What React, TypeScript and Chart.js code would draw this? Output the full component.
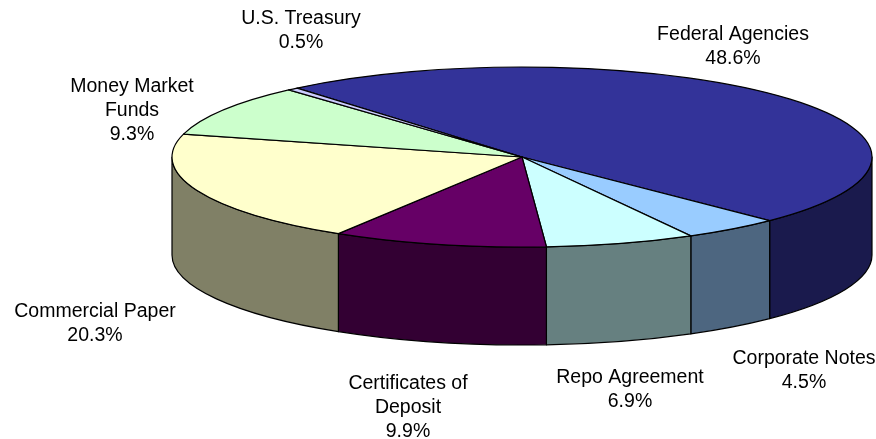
import React, { useEffect, useRef } from "react";
import { Chart, registerables } from "chart.js";

Chart.register(...registerables);

const categories = ["Federal Agencies", "Corporate Notes", "Repo Agreement", "Certificates of Deposit", "Commercial Paper", "Money Market Funds", "U.S. Treasury"];
const shares = [48.6, 4.5, 6.9, 9.9, 20.3, 9.3, 0.5];
const topColors = ["#333399", "#99CCFF", "#CCFFFF", "#660066", "#FFFFCC", "#CCFFCC", "#CCCCFF"];
const sideColors = ["#1A1A4D", "#4D6680", "#668080", "#330033", "#808066", "#668066", "#666680"];
const labelLines = [
  ["Federal Agencies", "48.6%"],
  ["Corporate Notes", "4.5%"],
  ["Repo Agreement", "6.9%"],
  ["Certificates of", "Deposit", "9.9%"],
  ["Commercial Paper", "20.3%"],
  ["Money Market", "Funds", "9.3%"],
  ["U.S. Treasury", "0.5%"],
];
const labelAnchors = [
  [733, 35], [804, 359], [630, 378], [408, 384], [95, 312], [132, 87], [301, 19],
];

const CX = 522, CY = 157, RX = 350, RY = 90, DEPTH = 98;
const FONT = "19.5px 'Liberation Sans', Arial, sans-serif";
const LINE = 24;

const pie3d = {
  id: "pie3d",
  beforeDatasetDraw(chart: any) {
    const ctx: CanvasRenderingContext2D = chart.ctx;
    const arcs = chart.getDatasetMeta(0).data;
    const pt = (a: number) => [CX + RX * Math.cos(a), CY + RY * Math.sin(a)];
    ctx.save();
    ctx.lineWidth = 1.2;
    ctx.strokeStyle = "#000";
    ctx.lineJoin = "round";
    // side wall: only the front half of the ellipse (canvas angles 0..PI)
    const norm = (a: number) => { const t = Math.PI * 2; return ((a % t) + t) % t; };
    arcs.forEach((arc: any, i: number) => {
      const { startAngle, endAngle } = arc.getProps(["startAngle", "endAngle"]);
      const ranges: [number, number][] = [];
      const s = norm(startAngle);
      const e = s + (endAngle - startAngle);
      for (const k of [0, 2]) {
        const lo = Math.max(s, k * Math.PI), hi = Math.min(e, (k + 1) * Math.PI);
        if (hi > lo) ranges.push([lo, hi]);
      }
      ranges.forEach(([lo, hi]) => {
        ctx.beginPath();
        ctx.ellipse(CX, CY, RX, RY, 0, lo, hi);
        ctx.lineTo(pt(hi)[0], pt(hi)[1] + DEPTH);
        ctx.ellipse(CX, CY + DEPTH, RX, RY, 0, hi, lo, true);
        ctx.closePath();
        ctx.fillStyle = sideColors[i];
        ctx.fill();
        ctx.stroke();
      });
    });
    // top faces
    arcs.forEach((arc: any, i: number) => {
      const { startAngle, endAngle } = arc.getProps(["startAngle", "endAngle"]);
      ctx.beginPath();
      ctx.moveTo(CX, CY);
      ctx.ellipse(CX, CY, RX, RY, 0, startAngle, endAngle);
      ctx.closePath();
      ctx.fillStyle = topColors[i];
      ctx.fill();
      ctx.stroke();
    });
    // labels
    ctx.fillStyle = "#000";
    ctx.font = FONT;
    ctx.textAlign = "center";
    ctx.textBaseline = "middle";
    labelLines.forEach((lines, i) => {
      lines.forEach((t, j) => ctx.fillText(t, labelAnchors[i][0], labelAnchors[i][1] + j * LINE));
    });
    ctx.restore();
    return false;
  },
};

export default function App() {
  const ref = useRef<HTMLCanvasElement>(null);
  useEffect(() => {
    const chart = new Chart(ref.current!, {
      type: "pie",
      data: {
        labels: categories,
        datasets: [{ data: shares, backgroundColor: topColors }],
      },
      options: {
        responsive: false,
        animation: false,
        rotation: -40,
        plugins: { legend: { display: false }, tooltip: { enabled: false } },
      },
      plugins: [pie3d],
    } as any);
    return () => chart.destroy();
  }, []);
  return (
    <div style={{ position: "absolute", left: 0, top: 0 }}>
      <canvas ref={ref} width={876} height={439} style={{ display: "block", background: "#fff" }} />
    </div>
  );
}
